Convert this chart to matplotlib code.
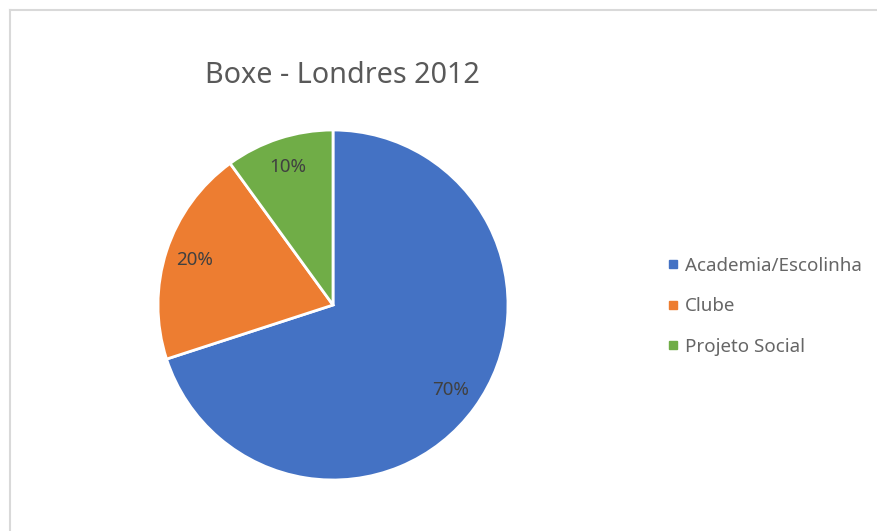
import matplotlib.pyplot as plt
from matplotlib.lines import Line2D

# Boxe - Londres 2012: origem dos atletas
categorias = ['Academia/Escolinha', 'Clube', 'Projeto Social']
percentuais = [70, 20, 10]
cores = ['#4472C4', '#ED7D31', '#70AD47']
titulo = 'Boxe - Londres 2012'

W, H = 877, 531
fig = plt.figure(figsize=(W / 100, H / 100), dpi=100)
fig.patch.set_facecolor('white')

# moldura cinza do grafico (topo e esquerda)
borda = '#d9d9d9'
fig.add_artist(Line2D([10 / W, 1], [1 - 10 / H, 1 - 10 / H], color=borda, lw=1.5))
fig.add_artist(Line2D([10 / W, 10 / W], [0, 1 - 10 / H], color=borda, lw=1.5))

cx, cy, r = 333, 305, 175
ax = fig.add_axes([(cx - r) / W, (H - cy - r) / H, 2 * r / W, 2 * r / H])
fatias, textos, pcts = ax.pie(
    percentuais, colors=cores, startangle=90, counterclock=False,
    radius=1, autopct='%d%%', pctdistance=0.83,
    wedgeprops=dict(edgecolor='white', linewidth=2),
    textprops=dict(color='#404040', fontsize=13.5, family='Noto Sans'))
ax.set_xlim(-1, 1)
ax.set_ylim(-1, 1)
ax.set_aspect('equal')
ax.axis('off')

fig.text(342 / W, 1 - 76 / H, titulo, ha='center', va='center',
         fontsize=20.7, color='#595959', family='Noto Sans')

alcas = [Line2D([], [], marker='s', ls='', color=c, markersize=6) for c in cores]
fig.legend(alcas, categorias, loc='upper left',
           bbox_to_anchor=(651 / W, 1 - 240 / H), frameon=False,
           handlelength=0.5, handletextpad=0.4, labelspacing=1.2,
           prop=dict(family='Noto Sans', size=13.5), labelcolor='#666666')

fig.savefig('out.png', dpi=100, facecolor='white')
